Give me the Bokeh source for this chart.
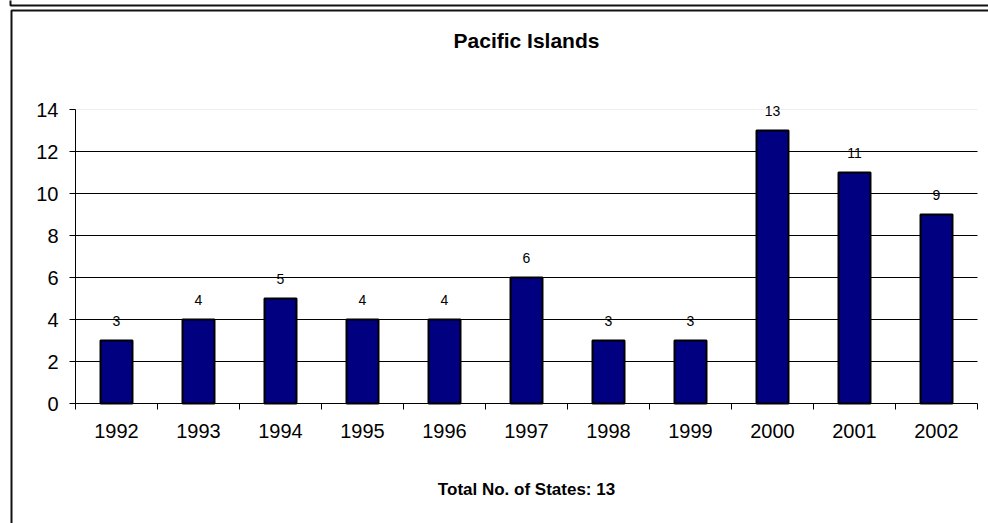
from bokeh.plotting import figure
from bokeh.models import FixedTicker, BoxAnnotation
from bokeh.models import ColumnDataSource
from bokeh.core.properties import value
from bokeh.embed import file_html
from bokeh.resources import INLINE

years = ["1992", "1993", "1994", "1995", "1996", "1997", "1998", "1999", "2000", "2001", "2002"]
counts = [3, 4, 5, 4, 4, 6, 3, 3, 13, 11, 9]
y_ticks = [0, 2, 4, 6, 8, 10, 12, 14]
title_text = "Pacific Islands"
footer_text = "Total No. of States: 13"

FONT = "Liberation Sans"
W, H = 988, 523
FL, FB = 75, 403           # plot-area left / bottom in px
PLOT_R, PLOT_T = 977, 109  # plot-area right / top in px
n = len(years)
xs = list(range(n))
PX_X = (PLOT_R - FL) / n
PX_Y = (FB - PLOT_T) / 14.0

def dx(px):
    return (px - FL) / PX_X - 0.5

def dy(py):
    return (FB - py) / PX_Y

# the frame covers the whole canvas; axes are placed at fixed locations
p = figure(width=W, height=H, output_backend="svg", toolbar_location=None,
           x_range=(dx(0), dx(W)), y_range=(dy(H), dy(0)),
           min_border_left=0, min_border_right=0,
           min_border_top=0, min_border_bottom=0,
           background_fill_color="white", border_fill_color="white")
p.outline_line_color = None
p.xgrid.visible = False
p.ygrid.visible = False

# grid lines limited to the plot area
p.segment(x0=[-0.5] * (len(y_ticks) - 2), x1=[n - 0.5] * (len(y_ticks) - 2),
          y0=y_ticks[1:-1], y1=y_ticks[1:-1], line_color="black", line_width=1)
p.segment(x0=[-0.5], x1=[n - 0.5], y0=[y_ticks[-1]], y1=[y_ticks[-1]],
          line_color="#eeeeee", line_width=1)

src = ColumnDataSource(dict(x=xs, top=counts, lab=[str(c) for c in counts]))
p.vbar(x="x", top="top", bottom=0, width=0.39, source=src,
       fill_color="#000080", line_color="black", line_width=2)
p.text(x="x", y="top", text="lab", source=src, text_align="center",
       text_baseline="middle", y_offset=-20, text_font=value(FONT),
       text_font_size="14px", text_color="black")

# y axis
p.yaxis.fixed_location = -0.5
p.yaxis.bounds = (0, 14)
p.yaxis.ticker = FixedTicker(ticks=y_ticks)
p.yaxis.major_tick_out = 6
p.yaxis.major_tick_in = 0
p.yaxis.minor_tick_line_color = None
p.yaxis.axis_line_color = "black"
p.yaxis.major_tick_line_color = "black"
p.yaxis.major_label_text_font = FONT
p.yaxis.major_label_text_font_size = "20px"
p.yaxis.major_label_text_color = "black"
p.yaxis.major_label_standoff = 11

# x axis
p.xaxis.fixed_location = 0
p.xaxis.bounds = (-0.5, n - 0.5)
p.xaxis.ticker = FixedTicker(ticks=xs, minor_ticks=[i - 0.5 for i in range(n + 1)])
p.xaxis.major_label_overrides = {i: y for i, y in enumerate(years)}
p.xaxis.major_tick_line_color = None
p.xaxis.major_tick_out = 0
p.xaxis.minor_tick_out = 6
p.xaxis.minor_tick_in = 0
p.xaxis.minor_tick_line_color = "black"
p.xaxis.axis_line_color = "black"
p.xaxis.major_label_text_font = FONT
p.xaxis.major_label_text_font_size = "20px"
p.xaxis.major_label_text_color = "black"
p.xaxis.major_label_standoff = 14

# title & footer
p.text(x=[(n - 1) / 2], y=[dy(39.5)], text=[title_text], text_align="center",
       text_baseline="middle", text_font=value(FONT), text_font_size="21px",
       text_font_style="bold", text_color="black")
p.text(x=[(n - 1) / 2], y=[dy(489)], text=[footer_text], text_align="center",
       text_baseline="middle", text_font=value(FONT), text_font_size="17px",
       text_font_style="bold", text_color="black")

# outer frames
p.add_layout(BoxAnnotation(left=dx(11), right=dx(1100), top=dy(10), bottom=dy(700),
                           fill_alpha=0, line_color="#111111", line_alpha=1.0,
                           line_width=2, level="overlay"))
p.add_layout(BoxAnnotation(left=dx(10), right=dx(1100), top=dy(-50), bottom=dy(5),
                           fill_alpha=0, line_color="#111111", line_alpha=1.0,
                           line_width=2, level="overlay"))

open("out.html", "w").write(file_html(p, INLINE))
